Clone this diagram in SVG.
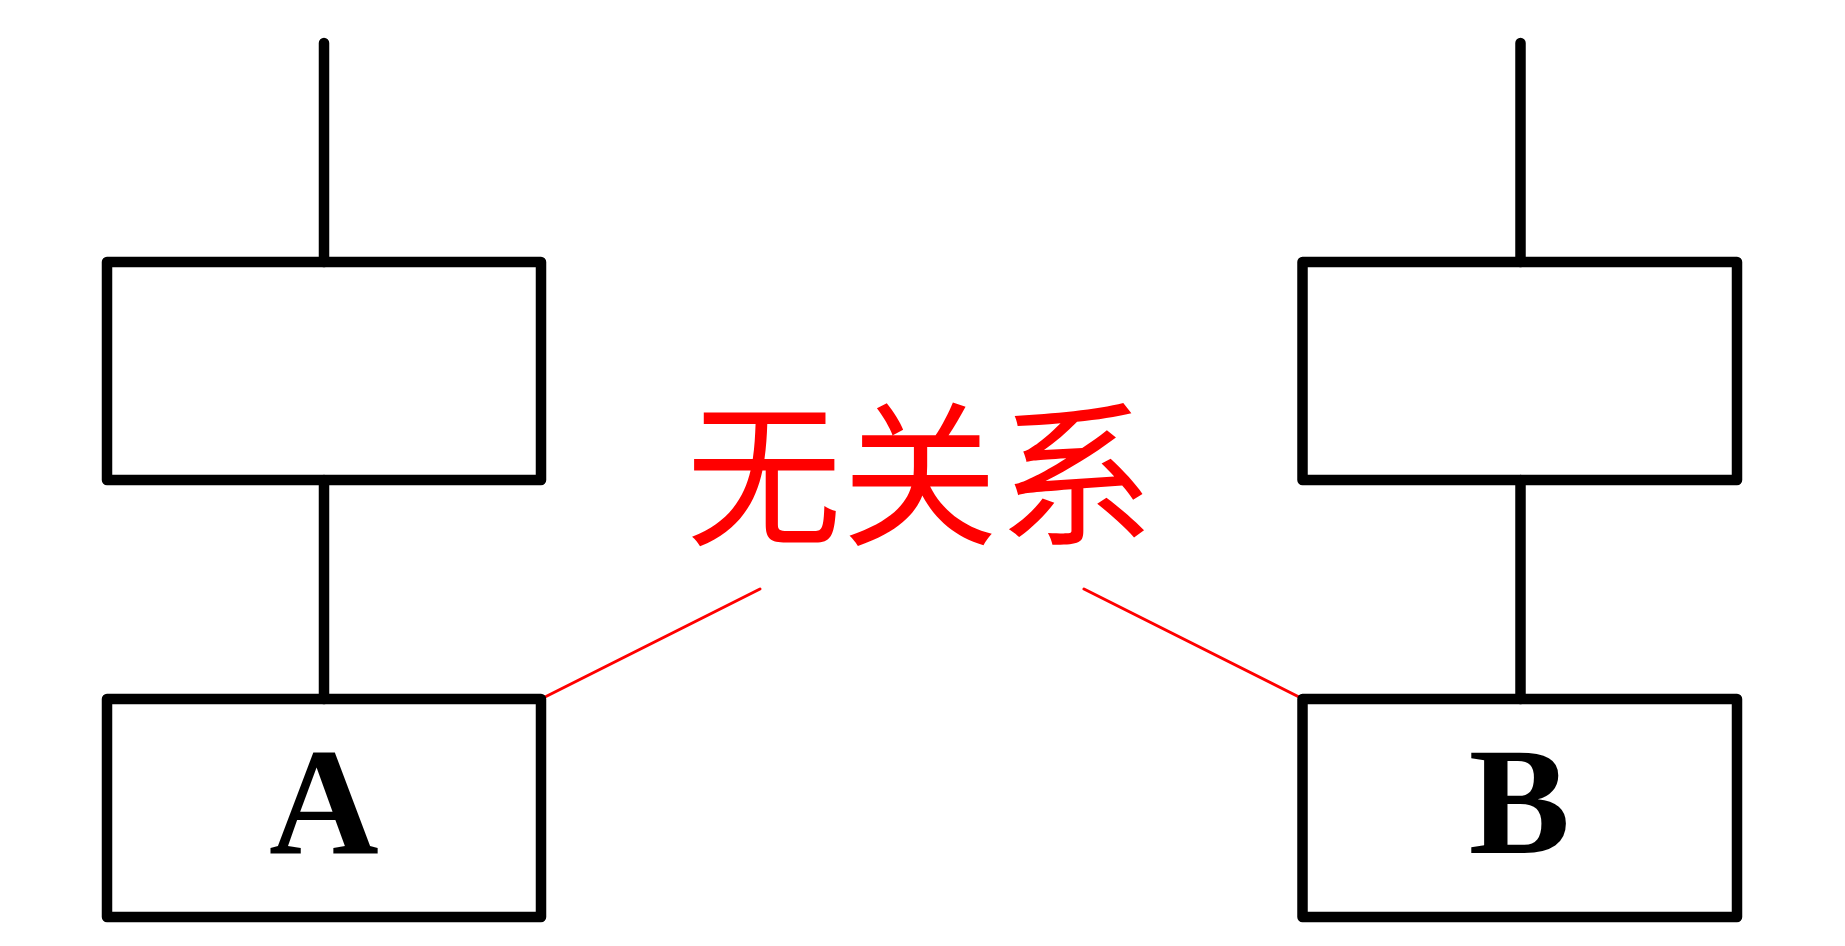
<svg xmlns="http://www.w3.org/2000/svg" width="1845" height="946" viewBox="0 0 1845 946">
<style>
.box{fill:none;stroke:#000;stroke-width:10.5;stroke-linejoin:round}
.wire{fill:none;stroke:#000;stroke-width:10.5;stroke-linecap:round}
.rel{fill:none;stroke:#ff0000;stroke-width:3;stroke-linecap:round}
.lbl{font-weight:bold;font-size:152px;fill:#000;text-anchor:middle}
.cn{font-family:"Noto Sans CJK SC","Noto Sans",sans-serif;font-size:156px;fill:#ff0000;text-anchor:middle}
</style>
<rect width="1845" height="946" fill="#fff"/>
<g id="connectors">
<line class="wire" x1="324" y1="43" x2="324" y2="262"/>
<line class="wire" x1="324" y1="480" x2="324" y2="699"/>
<line class="wire" x1="1520.5" y1="43" x2="1520.5" y2="262"/>
<line class="wire" x1="1520.5" y1="480" x2="1520.5" y2="699"/>
<line class="rel" x1="541" y1="699" x2="760" y2="589"/>
<line class="rel" x1="1303" y1="699" x2="1084" y2="589"/>
</g>
<g id="nodeA-top"><rect class="box" x="107" y="262" width="434" height="218"/></g>
<g id="nodeA"><rect class="box" x="107" y="699" width="434" height="218"/><text class="lbl" font-family="Liberation Serif, Tinos, Times New Roman, Times, serif" x="324" y="853">A</text></g>
<g id="nodeB-top"><rect class="box" x="1302.5" y="262" width="434.5" height="218"/></g>
<g id="nodeB"><rect class="box" x="1302.5" y="699" width="434.5" height="218"/><text class="lbl" font-family="Liberation Serif, Tinos, Times New Roman, Times, serif" x="1519.5" y="853">B</text></g>
<g id="label"><text class="cn" x="920" y="533">无关系</text></g>
</svg>
